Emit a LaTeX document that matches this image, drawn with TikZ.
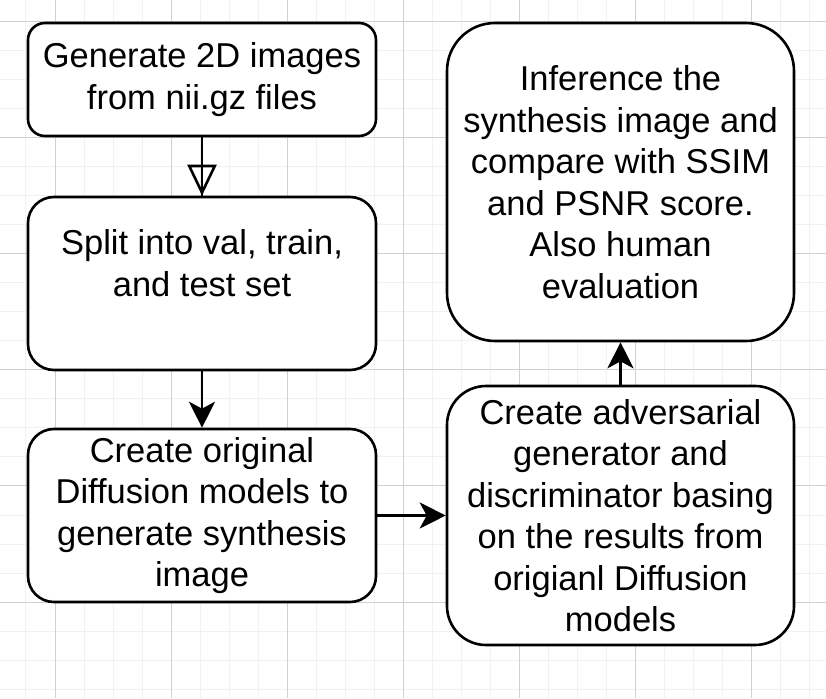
\documentclass[tikz,border=0pt]{standalone}
\usepackage{fontspec}
\setmainfont{Liberation Sans}
\usetikzlibrary{arrows.meta}
\definecolor{gridminor}{RGB}{241,241,241}
\definecolor{gridmajor}{RGB}{208,208,208}
\begin{document}
\begin{tikzpicture}[x=1pt,y=-1pt,
  box/.style={draw=black, line width=2.6pt, fill=white, align=center,
    font=\fontsize{34.5}{41.5}\selectfont, inner sep=0pt},
  conn/.style={draw=black, line width=2.6pt},
  tipfull/.style={-{Stealth[length=26pt,width=26pt,inset=7pt]}},
  tipopen/.style={-{Triangle[open,length=31pt,width=29pt]}},
  minorline/.style={draw=gridminor, line width=1pt},
  majorline/.style={draw=gridmajor, line width=1pt}]
\fill[white] (0,0) rectangle (826,698);
\useasboundingbox (0,0) rectangle (826,698);
% grid
\foreach \j in {-1,...,26} \draw[minorline] ({55+29.025*\j},0) -- ({55+29.025*\j},698);
\foreach \j in {0,...,23} \draw[minorline] (0,{21.5+29.03*\j}) -- (826,{21.5+29.03*\j});
\foreach \j in {0,...,6} \draw[majorline] ({55+116.1*\j},0) -- ({55+116.1*\j},698);
\foreach \j in {0,...,5} \draw[majorline] (0,{21.5+116.1*\j}) -- (826,{21.5+116.1*\j});
% boxes
\node[box, minimum width=348pt, minimum height=113pt, rounded corners=17pt] (b1) at (202,79.5)
  {Generate 2D images\\from nii.gz files};
\node[box, minimum width=348pt, minimum height=173pt, rounded corners=26pt] (b2) at (202,283.5)
  {Split into val, train,\\and test set\\\mbox{}};
\node[box, minimum width=348pt, minimum height=173pt, rounded corners=26pt] (b3) at (202,515.5)
  {Create original\\Diffusion models to\\generate synthesis\\image};
\node[box, minimum width=347pt, minimum height=318pt, rounded corners=48pt] (b4) at (620.5,182)
  {Inference the\\synthesis image and\\compare with SSIM\\and PSNR score.\\Also human\\evaluation};
\node[box, minimum width=347pt, minimum height=259pt, rounded corners=39pt] (b5) at (620.5,515.5)
  {Create adversarial\\generator and\\discriminator basing\\on the results from\\origianl Diffusion\\models};
% connectors
\draw[conn, postaction={draw, tipopen}] (b1.south) -- (b2.north);
\draw[conn, tipfull] (b2.south) -- (b3.north);
\draw[conn, tipfull] (b3.east) -- (b5.west);
\draw[conn, tipfull] (b5.north) -- (b4.south);
\end{tikzpicture}
\end{document}
